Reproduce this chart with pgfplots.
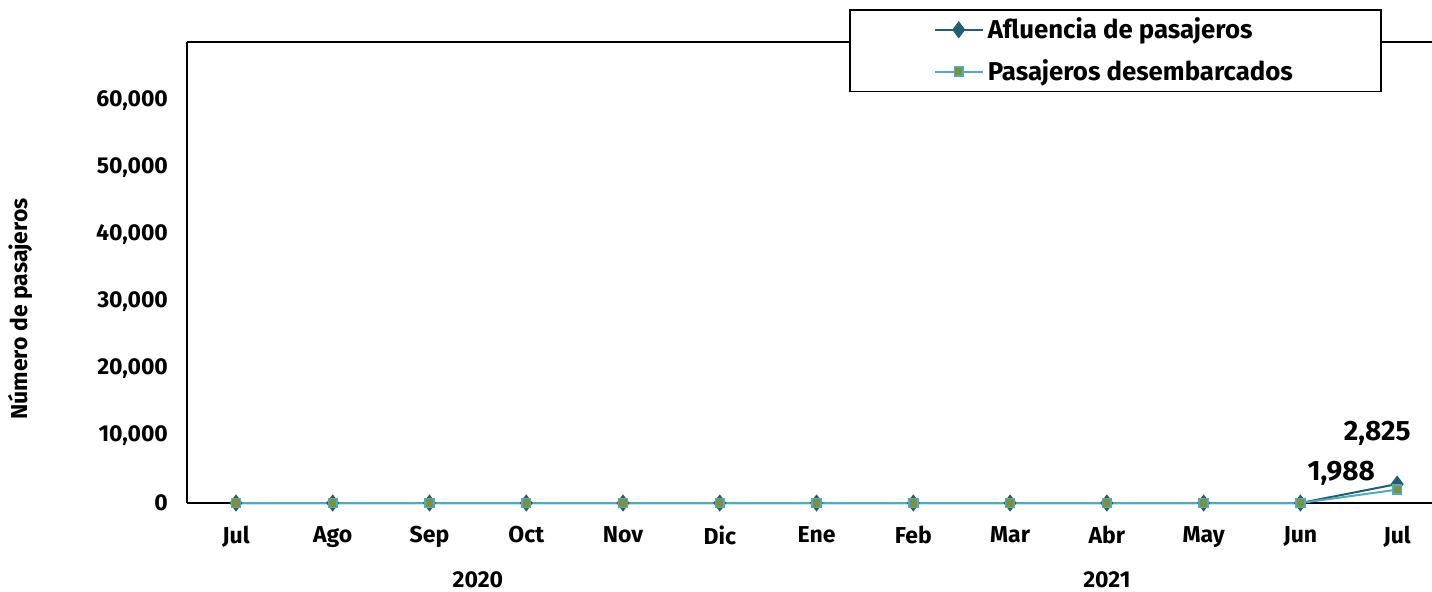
\documentclass[border=0pt]{standalone}
\usepackage{fontspec}
\setmainfont{Fira Sans}
\usepackage{pgfplots}
\pgfplotsset{compat=1.18}
\definecolor{afl}{HTML}{215F6E}
\definecolor{des}{HTML}{4BACC6}
\definecolor{olv}{HTML}{7F8F3A}

\begin{document}
\begin{tikzpicture}[x=1pt,y=1pt]
\begin{axis}[
    at={(0,0)}, anchor=south west,
    scale only axis,
    width=622.5pt, height=230.5pt,
    xmin=-0.506, xmax=12.36,
    ymin=0, ymax=68800,
    axis x line*=bottom, axis y line*=left,
    axis line style={black, line width=0.9pt},
    xtick={0,...,12},
    xticklabels={Jul,Ago,Sep,Oct,Nov,Dic,Ene,Feb,Mar,Abr,May,Jun,Jul},
    ytick={0,10000,...,60000},
    major tick length=0pt,
    xticklabel style={yshift=-8pt},
    yticklabel style={xshift=-6pt},
    tick label style={font=\fontsize{11.5}{14}\selectfont\bfseries},
    /pgf/number format/assume math mode=true,
    /pgf/number format/.cd, 1000 sep={,}, /pgfplots/.cd,
    scaled y ticks=false,
    ylabel={Número de pasajeros},
    ylabel style={at={(rel axis cs:-0.134,0.421)}, anchor=center, font=\fontsize{11.5}{14}\selectfont\bfseries},
    clip=false,
    legend style={at={(rel axis cs:0.5317,1.0716)}, anchor=north west,
        draw=black, line width=0.8pt, fill=white,
        inner xsep=42pt, inner ysep=2pt, row sep=5pt,
        font=\fontsize{12.9}{15}\selectfont\bfseries},
    legend cell align=left,
    legend image code/.code={
        \draw[line width=1pt, mark repeat=2, mark phase=2] plot coordinates {(0pt,0pt) (12pt,0pt) (24pt,0pt)};},
]
\addplot[afl, line width=1pt, mark=diamond*, mark size=3.5pt, mark options={fill=afl, draw=afl}]
  coordinates {(0,0) (1,0) (2,0) (3,0) (4,0) (5,0) (6,0) (7,0) (8,0) (9,0) (10,0) (11,0) (12,2825)};
\addplot[des, line width=1pt, mark=square*, mark size=2.2pt, mark options={fill=olv, draw=des, line width=0.8pt}]
  coordinates {(0,0) (1,0) (2,0) (3,0) (4,0) (5,0) (6,0) (7,0) (8,0) (9,0) (10,0) (11,0) (12,1988)};
\legend{Afluencia de pasajeros, Pasajeros desembarcados}
\node[font=\fontsize{14}{16}\selectfont\bfseries] at ([xshift=-10pt,yshift=25.5pt]axis cs:12,2825) {2,825};
\node[font=\fontsize{14}{16}\selectfont\bfseries] at ([xshift=-28pt,yshift=8pt]axis cs:12,1988) {1,988};
\node[font=\fontsize{11.5}{14}\selectfont\bfseries] at ([yshift=-38.5pt]axis cs:2.5,0) {2020};
\node[font=\fontsize{11.5}{14}\selectfont\bfseries] at ([yshift=-38.5pt]axis cs:9,0) {2021};
\end{axis}
\draw[black, line width=0.9pt] (0,230.5) -- (331,230.5);
\draw[black, line width=0.9pt] (597,230.5) -- (622.5,230.5);
\pgfresetboundingbox
\useasboundingbox (-93.5,-44) rectangle (622.5,251.5);
\end{tikzpicture}
\end{document}
